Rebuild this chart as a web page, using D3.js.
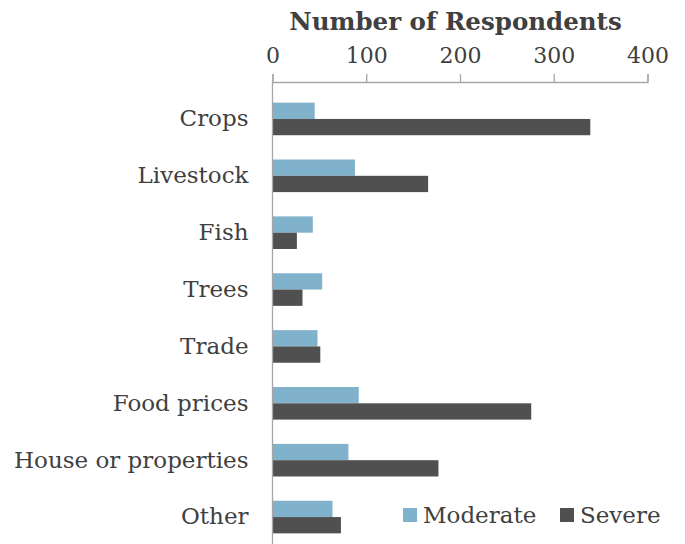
<!DOCTYPE html>
<html>
<head>
<meta charset="utf-8">
<script src="https://cdn.jsdelivr.net/npm/d3@7"></script>
<style>
  html, body { margin: 0; padding: 0; background: #ffffff; }
  svg { display: block; }
  text { font-family: "DejaVu Serif", Georgia, serif; fill: #404040; }
</style>
</head>
<body>
<svg id="chart" width="685" height="544"></svg>
<script>
// Damage categories, top to bottom
const categories = ["Crops", "Livestock", "Fish", "Trees", "Trade", "Food prices", "House or properties", "Other"];
// Respondents reporting each level of impact
const moderate = [45, 88, 43, 53, 48, 92, 81, 64];
const severe   = [339, 166, 26, 32, 51, 276, 177, 73];
const seriesNames = ["Moderate", "Severe"];
const seriesColors = ["#80b2cb", "#505050"];
const tickValues = [0, 100, 200, 300, 400];
const axisTitle = "Number of Respondents";

const svg = d3.select("#chart");

const x = d3.scaleLinear().domain([0, 400]).range([272.5, 647.5]);
const y = d3.scaleBand().domain(categories).range([90.5, 545.5])
  .paddingInner(0.427).paddingOuter(0.2135);
const ySub = d3.scaleBand().domain(seriesNames).range([0, y.bandwidth()]);

const rows = categories.map((c, i) => ({ cat: c, values: [moderate[i], severe[i]] }));

// Bars
const groups = svg.append("g").selectAll("g")
  .data(rows).join("g")
  .attr("transform", d => `translate(0,${y(d.cat)})`);

groups.selectAll("rect")
  .data(d => d.values.map((v, k) => ({ v, k })))
  .join("rect")
  .attr("x", x(0))
  .attr("y", d => ySub(seriesNames[d.k]))
  .attr("width", d => x(d.v) - x(0))
  .attr("height", ySub.bandwidth())
  .attr("fill", d => seriesColors[d.k]);

// Top value axis
const xAxis = d3.axisTop(x).tickValues(tickValues).tickSize(8).tickPadding(11).tickFormat(d3.format("d"));
const gx = svg.append("g").attr("transform", "translate(0,82)").call(xAxis);
gx.select(".domain").attr("stroke", "#a6a6a6").attr("stroke-width", 1.3);
gx.selectAll(".tick line").attr("stroke", "#a6a6a6").attr("stroke-width", 1.3);
gx.selectAll(".tick text").style("font-size", "22px").attr("fill", "#404040");

// Category axis
const yAxis = d3.axisLeft(y).tickSize(0).tickPadding(24);
const gy = svg.append("g").attr("transform", `translate(${x(0)},0)`).call(yAxis);
gy.select(".domain").attr("d", "M0,82V544").attr("stroke", "#a6a6a6").attr("stroke-width", 1.3);
gy.selectAll(".tick text").style("font-size", "23px").attr("fill", "#404040");

// Axis title
svg.append("text")
  .attr("x", 455.5).attr("y", 30)
  .attr("text-anchor", "middle")
  .style("font-size", "24.5px").style("font-weight", "bold")
  .text(axisTitle);

// Legend
const legendX = [403, 560];
const legend = svg.append("g").selectAll("g")
  .data(seriesNames).join("g")
  .attr("transform", (d, i) => `translate(${legendX[i]},508)`);
legend.append("rect").attr("width", 14).attr("height", 14).attr("fill", (d, i) => seriesColors[i]);
legend.append("text").attr("x", 20).attr("y", 15).style("font-size", "23px").text(d => d);
</script>
</body>
</html>
